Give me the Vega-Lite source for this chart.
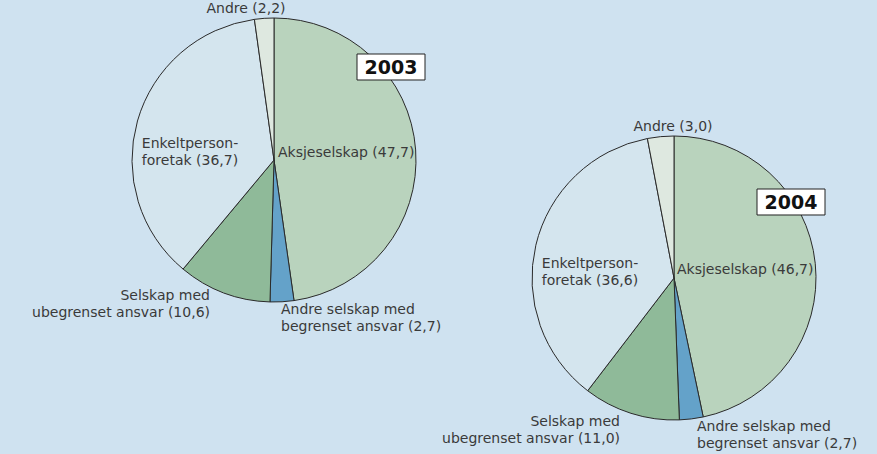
{
  "$schema": "https://vega.github.io/schema/vega-lite/v6.json",
  "width": 877,
  "height": 454,
  "autosize": {"type": "fit", "contains": "padding"},
  "padding": 0,
  "background": "#cfe2f0",
  "config": {
    "view": {"stroke": null},
    "text": {"font": "DejaVu Sans", "fontSize": 14, "color": "#3a3a3a", "lineBreak": "\n", "lineHeight": 17, "baseline": "alphabetic"}
  },
  "data": {
    "values": [
      {"year": "2003", "kategori": "Aksjeselskap", "andel": 47.7, "rekkefolge": 1, "label": "Aksjeselskap (47,7)"},
      {"year": "2003", "kategori": "Andre selskap med begrenset ansvar", "andel": 2.7, "rekkefolge": 2, "label": "Andre selskap med\nbegrenset ansvar (2,7)"},
      {"year": "2003", "kategori": "Selskap med ubegrenset ansvar", "andel": 10.6, "rekkefolge": 3, "label": "Selskap med\nubegrenset ansvar (10,6)"},
      {"year": "2003", "kategori": "Enkeltpersonforetak", "andel": 36.7, "rekkefolge": 4, "label": "Enkeltperson-\nforetak (36,7)"},
      {"year": "2003", "kategori": "Andre", "andel": 2.2, "rekkefolge": 5, "label": "Andre (2,2)"},
      {"year": "2004", "kategori": "Aksjeselskap", "andel": 46.7, "rekkefolge": 1, "label": "Aksjeselskap (46,7)"},
      {"year": "2004", "kategori": "Andre selskap med begrenset ansvar", "andel": 2.7, "rekkefolge": 2, "label": "Andre selskap med\nbegrenset ansvar (2,7)"},
      {"year": "2004", "kategori": "Selskap med ubegrenset ansvar", "andel": 11.0, "rekkefolge": 3, "label": "Selskap med\nubegrenset ansvar (11,0)"},
      {"year": "2004", "kategori": "Enkeltpersonforetak", "andel": 36.6, "rekkefolge": 4, "label": "Enkeltperson-\nforetak (36,6)"},
      {"year": "2004", "kategori": "Andre", "andel": 3.0, "rekkefolge": 5, "label": "Andre (3,0)"}
    ]
  },
  "encoding": {
    "x": {"field": "year", "type": "ordinal", "scale": {"type": "point", "domain": ["2003", "2004"], "range": [274, 674], "padding": 0}, "axis": null},
    "y": {"field": "year", "type": "ordinal", "scale": {"type": "point", "domain": ["2003", "2004"], "range": [160, 278], "padding": 0}, "axis": null}
  },
  "layer": [
    {
      "transform": [
        {"stack": "andel", "groupby": ["year"], "sort": [{"field": "rekkefolge", "order": "ascending"}], "offset": "normalize", "as": ["v0", "v1"]}
      ],
      "mark": {"type": "arc", "outerRadius": 142, "stroke": "#2a2a2a", "strokeWidth": 1},
      "encoding": {
        "theta": {"field": "v0", "type": "quantitative", "scale": {"domain": [0, 1], "range": [0, 6.283185307179586]}},
        "theta2": {"field": "v1"},
        "color": {
          "field": "kategori", "type": "nominal", "legend": null,
          "scale": {
            "domain": ["Aksjeselskap", "Andre selskap med begrenset ansvar", "Selskap med ubegrenset ansvar", "Enkeltpersonforetak", "Andre"],
            "range": ["#b9d3bd", "#64a2c9", "#8fba99", "#d4e5ee", "#dee8e0"]
          }
        }
      }
    },
    {
      "transform": [{"filter": "datum.year == '2003' && datum.rekkefolge == 1"}],
      "mark": {"type": "point", "shape": "M-1,-0.382H1V0.382H-1Z", "size": 4624, "filled": true, "fill": "#ffffff", "stroke": "#222222", "strokeWidth": 1, "opacity": 1, "xOffset": 117, "yOffset": -93}
    },
    {
      "transform": [{"filter": "datum.year == '2004' && datum.rekkefolge == 1"}],
      "mark": {"type": "point", "shape": "M-1,-0.382H1V0.382H-1Z", "size": 4624, "filled": true, "fill": "#ffffff", "stroke": "#222222", "strokeWidth": 1, "opacity": 1, "xOffset": 117, "yOffset": -76}
    },
    {
      "transform": [{"filter": "datum.year == '2003' && datum.rekkefolge == 1"}],
      "mark": {"type": "text", "align": "center", "dx": 117, "dy": -86, "fontSize": 19, "fontWeight": "bold", "color": "#111111"},
      "encoding": {"text": {"field": "year"}}
    },
    {
      "transform": [{"filter": "datum.year == '2004' && datum.rekkefolge == 1"}],
      "mark": {"type": "text", "align": "center", "dx": 117, "dy": -69, "fontSize": 19, "fontWeight": "bold", "color": "#111111"},
      "encoding": {"text": {"field": "year"}}
    },
    {
      "transform": [{"filter": "datum.year == '2003' && datum.rekkefolge == 1"}],
      "mark": {"type": "text", "align": "left", "dx": 4, "dy": -3},
      "encoding": {"text": {"field": "label"}}
    },
    {
      "transform": [{"filter": "datum.year == '2003' && datum.rekkefolge == 2"}],
      "mark": {"type": "text", "align": "left", "dx": 7, "dy": 154},
      "encoding": {"text": {"field": "label"}}
    },
    {
      "transform": [{"filter": "datum.year == '2003' && datum.rekkefolge == 3"}],
      "mark": {"type": "text", "align": "right", "dx": -64, "dy": 140},
      "encoding": {"text": {"field": "label"}}
    },
    {
      "transform": [{"filter": "datum.year == '2003' && datum.rekkefolge == 4"}],
      "mark": {"type": "text", "align": "center", "dx": -84, "dy": -12},
      "encoding": {"text": {"field": "label"}}
    },
    {
      "transform": [{"filter": "datum.year == '2003' && datum.rekkefolge == 5"}],
      "mark": {"type": "text", "align": "center", "dx": -28, "dy": -147},
      "encoding": {"text": {"field": "label"}}
    },
    {
      "transform": [{"filter": "datum.year == '2004' && datum.rekkefolge == 1"}],
      "mark": {"type": "text", "align": "left", "dx": 3, "dy": -4},
      "encoding": {"text": {"field": "label"}}
    },
    {
      "transform": [{"filter": "datum.year == '2004' && datum.rekkefolge == 2"}],
      "mark": {"type": "text", "align": "left", "dx": 23, "dy": 153},
      "encoding": {"text": {"field": "label"}}
    },
    {
      "transform": [{"filter": "datum.year == '2004' && datum.rekkefolge == 3"}],
      "mark": {"type": "text", "align": "right", "dx": -54, "dy": 148},
      "encoding": {"text": {"field": "label"}}
    },
    {
      "transform": [{"filter": "datum.year == '2004' && datum.rekkefolge == 4"}],
      "mark": {"type": "text", "align": "center", "dx": -84, "dy": -10},
      "encoding": {"text": {"field": "label"}}
    },
    {
      "transform": [{"filter": "datum.year == '2004' && datum.rekkefolge == 5"}],
      "mark": {"type": "text", "align": "center", "dx": -1, "dy": -147},
      "encoding": {"text": {"field": "label"}}
    }
  ]
}
